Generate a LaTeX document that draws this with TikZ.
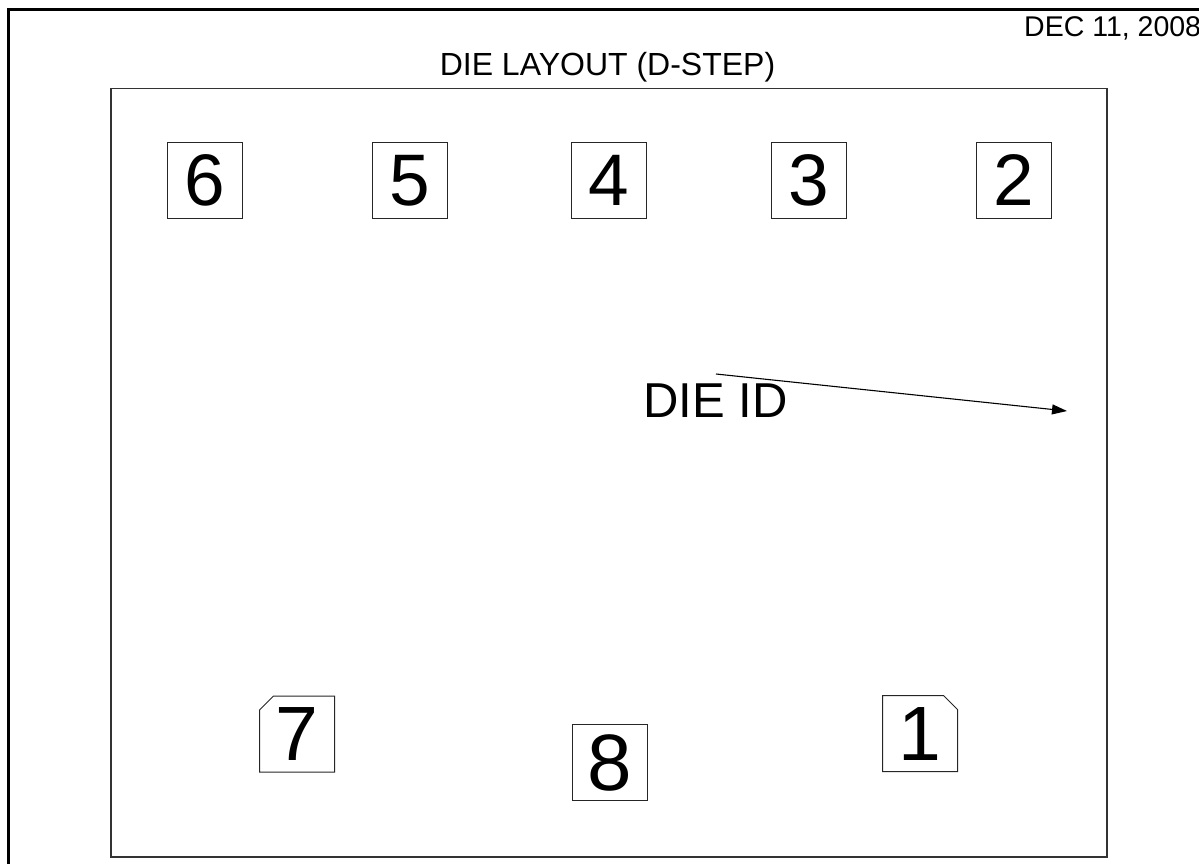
\documentclass[tikz,border=0pt]{standalone}
\usepackage{fontspec}
\setmainfont{Liberation Sans}
\usetikzlibrary{arrows.meta,shapes.misc}
\begin{document}
\begin{tikzpicture}[x=1pt,y=-1pt,
  diebox/.style={draw=black!85,line width=1pt,minimum width=75pt,minimum height=76pt,inner sep=0pt,
     font=\fontsize{73}{83}\selectfont},
  lowbox/.style={diebox,font=\fontsize{77}{87}\selectfont},
  chamf/.style={chamfered rectangle,chamfered rectangle xsep=7pt,chamfered rectangle ysep=7pt}]
\useasboundingbox (0,0) rectangle (1199,863);
\begin{scope}
\clip (0,0) rectangle (1199,863);
\draw[line width=3pt] (8,9.5) rectangle (1260,900);
\node[anchor=base west,inner sep=0pt,font=\fontsize{28.5}{32}\selectfont] (date) at (1024,36) {DEC 11, 2008};
\end{scope}
\draw[black!80,line width=1.3pt] (111,88.5) rectangle (1107,857);
\node[anchor=base,inner sep=0pt,font=\fontsize{32}{37}\selectfont] (title) at (607.5,75) {DIE LAYOUT (D-STEP)};
\node[diebox] (b6) at (204.5,180.5) {6};
\node[diebox] (b5) at (409.5,180.5) {5};
\node[diebox] (b4) at (608.5,180.5) {4};
\node[diebox] (b3) at (808.5,180.5) {3};
\node[diebox] (b2) at (1014,180.5) {2};
\node[lowbox,chamf,chamfered rectangle corners=north west] (b7) at (297,734) {7};
\node[lowbox,chamf,chamfered rectangle corners=north east] (b1) at (920,733.5) {1};
\node[diebox,font=\fontsize{80}{90}\selectfont] (b8) at (609.5,762.5) {\raisebox{-3pt}{8}};
\node[anchor=base west,inner sep=0pt,font=\fontsize{49}{56}\selectfont] (dieid) at (643,417) {DIE ID};
\coordinate (arrowstart) at (716,374);
\coordinate (arrowend) at (1067,411);
\draw[line width=1.1pt,-{Triangle[length=15pt,width=10pt]}] (arrowstart) -- (arrowend);
\end{tikzpicture}
\end{document}
